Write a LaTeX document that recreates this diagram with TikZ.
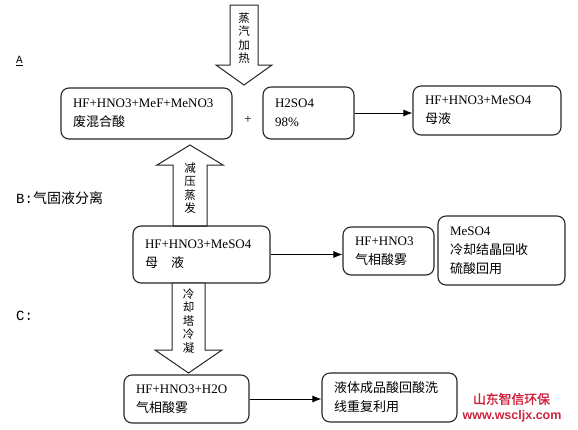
\documentclass[tikz,border=0pt]{standalone}
\usepackage{fontspec}
\setmainfont{Liberation Serif}
\setmonofont{Liberation Mono}
\newfontfamily\cjk{Noto Sans CJK SC}
\newfontfamily\wmcjk[FakeBold=1.5]{Noto Sans CJK SC}
\newfontfamily\wmfont{Liberation Sans}
\usetikzlibrary{arrows.meta,positioning}
\definecolor{wmred}{RGB}{205,35,60}

\begin{document}
\begin{tikzpicture}[
    x=1pt, y=-1pt,
    box/.style={rectangle, rounded corners=8pt, draw=black!85, line width=1.1pt, align=left, inner xsep=12pt, inner ysep=2pt, font=\fontsize{13}{19}\selectfont},
    bigarrow/.style={draw=black!85, line width=1pt, fill=white, line join=miter},
    vtext/.style={align=center, inner sep=0pt, font=\cjk\fontsize{11.5}{13.5}\selectfont},
    stage/.style={anchor=west, inner sep=0pt},
    wm/.style={inner sep=0pt, text=wmred},
    arrow/.style={-{Latex[length=9pt,width=7pt]}, line width=0.9pt}
]
    \useasboundingbox (0,0) rectangle (578,429);

    % stage A
    \node[stage, font=\ttfamily\fontsize{11}{11}\selectfont] (lblA) at (16,61) {\underline{A}};
    \draw[bigarrow] (230,5) -- (258,5) -- (258,65) -- (272,65) -- (244,85) -- (216,65) -- (230,65) -- cycle;
    \node[vtext] (steam) at (244,38) {蒸\\汽\\加\\热};

    \node[box, text width=147pt, minimum height=51pt] (waste) at (146.5,113.5) {HF+HNO3+MeF+MeNO3\\{\cjk 废混合酸}};
    \node[font=\fontsize{13}{13}\selectfont] (plus) at (248,119.5) {+};
    \node[box, text width=67pt, minimum height=52pt] (acid) at (308.5,113) {H2SO4\\98\%};
    \node[box, text width=124pt, minimum height=49pt] (mother) at (487,110.5) {HF+HNO3+MeSO4\\{\cjk 母液}};

    % stage B
    \node[stage, font=\fontsize{14}{14}\selectfont] (lblB) at (16,198) {\ttfamily B:\cjk 气固液分离};
    \draw[bigarrow] (173,226) -- (173,165) -- (157,165) -- (190,145) -- (223,165) -- (207,165) -- (207,226) -- cycle;
    \node[vtext] (evap) at (190,188) {减\\压\\蒸\\发};

    \node[box, text width=113pt, minimum height=57pt] (liquor) at (201.5,254.5) {HF+HNO3+MeSO4\\{\cjk 母　液}};
    \node[box, text width=67pt, minimum height=48pt] (mist) at (388.5,251) {HF+HNO3\\{\cjk 气相酸雾}};
    \node[box, text width=103pt, minimum height=69pt] (salt) at (501.5,250.5) {MeSO4\\{\cjk 冷却结晶回收}\\{\cjk 硫酸回用}};

    % stage C
    \node[stage, font=\ttfamily\fontsize{14}{14}\selectfont] (lblC) at (16,316) {C:};
    \draw[bigarrow] (172,283) -- (205,283) -- (205,350) -- (222,350) -- (188.5,373) -- (155,350) -- (172,350) -- cycle;
    \node[vtext] (cool) at (188.5,321) {冷\\却\\塔\\冷\\凝};

    \node[box, text width=101pt, minimum height=48pt] (cond) at (186.5,399) {HF+HNO3+H2O\\{\cjk 气相酸雾}};
    \node[box, text width=111pt, minimum height=49pt] (reuse) at (389.5,397.5) {{\cjk 液体成品酸回酸洗}\\{\cjk 线重复利用}};

    \draw[arrow] (acid.east) -- (acid.east -| mother.west);
    \draw[arrow] (liquor.east) -- (liquor.east -| mist.west);
    \draw[arrow] (cond.east) -- (cond.east -| reuse.west);

    % watermark
    \node[wm, font=\wmcjk\fontsize{12.8}{12.8}\selectfont] (wmname) at (511.5,399) {山东智信环保};
    \node[wm, font=\wmfont\bfseries\fontsize{12.5}{12.5}\selectfont] (wmurl) at (512,416) {www.wscljx.com};
\end{tikzpicture}
\end{document}
